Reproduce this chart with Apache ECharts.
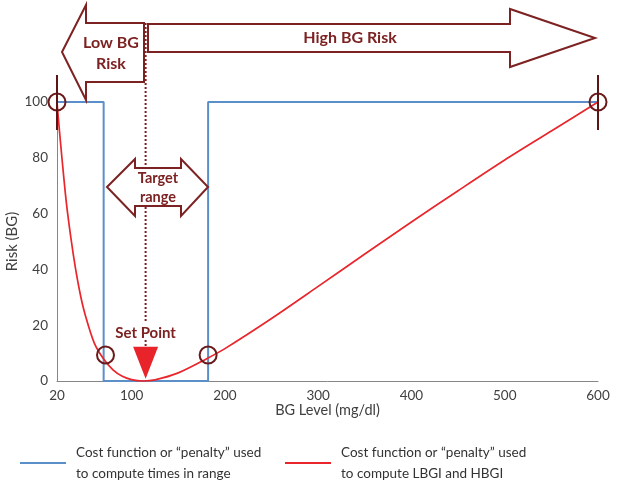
<!DOCTYPE html>
<html><head><meta charset="utf-8">
<script src="https://cdn.jsdelivr.net/npm/echarts@6/dist/echarts.min.js"></script>
<style>html,body{margin:0;padding:0;background:#fff}#c{width:627px;height:486px}</style>
</head><body><div id="c"></div>
<script>
// ---- data ----
const xTicks = [20, 100, 200, 300, 400, 500, 600];
const yTicks = [0, 20, 40, 60, 80, 100];
// Blue: cost function for time in range (step)
const blueX = [20, 70, 70, 182, 182, 600];
const blueY = [100, 100, 0, 0, 100, 100];
// Red: risk function used for LBGI / HBGI
const redX = [20, 22, 25, 30, 35, 40, 45, 50, 60, 70, 80, 90, 100, 112, 125, 150, 180, 200, 250, 300, 350, 400, 450, 500, 550, 600];
const redY = [100, 92, 81, 64, 51, 40, 31, 24, 13.6, 7.9, 4.0, 1.7, 0.5, 0, 0.4, 2.9, 7.9, 11.6, 22.4, 33.9, 45.5, 57.0, 68.2, 79.2, 89.6, 100];
// Highlighted points (circles)
const circleX = [20, 72, 182, 600];
const circleY = [100, 9.3, 9.3, 100];
// Set point
const setPointX = [115];
const setPointY = [6.5];
const blueName = 'Cost function or \u201Cpenalty\u201D used\nto compute times in range';
const redName = 'Cost function or \u201Cpenalty\u201D used\nto compute LBGI and HBGI';

const MAROON = '#7d2222';
const FONT = 'Lato';
const zip = (a, b) => a.map((v, i) => [v, b[i]]);

const legendText = {fontSize: 13.5, lineHeight: 21, color: '#333', fontFamily: FONT, padding: [0, 0, 0, 5]};
const chart = echarts.init(document.getElementById('c'), null, {renderer: 'canvas'});
chart.setOption({
  animation: false,
  textStyle: {fontFamily: FONT},
  grid: {left: 57, right: 29, top: 102, bottom: 105, containLabel: false, outerBoundsMode: 'none'},
  xAxis: {
    type: 'value', min: 20, max: 600,
    name: 'BG Level (mg/dl)', nameLocation: 'middle', nameGap: 22, nameMoveOverlap: false,
    nameTextStyle: {fontSize: 14.5, color: '#404040', fontFamily: FONT},
    axisLine: {show: true, lineStyle: {color: '#868686', width: 1}},
    axisTick: {show: false},
    splitLine: {show: false},
    axisLabel: {customValues: xTicks, fontSize: 13.5, color: '#404040', margin: 8, fontFamily: FONT}
  },
  yAxis: {
    type: 'value', min: 0, max: 100, interval: 20,
    name: 'Risk (BG)', nameLocation: 'middle', nameGap: 37, nameMoveOverlap: false,
    nameTextStyle: {fontSize: 15, color: '#404040', fontFamily: FONT},
    axisLine: {show: true, lineStyle: {color: '#868686', width: 1}},
    axisTick: {show: false},
    splitLine: {show: false},
    axisLabel: {customValues: yTicks, fontSize: 13.5, color: '#404040', margin: 9, fontFamily: FONT}
  },
  legend: [
    {left: 15, top: 437, itemWidth: 46, itemHeight: 2, icon: 'rect', textStyle: legendText, data: [blueName]},
    {left: 280, top: 437, itemWidth: 46, itemHeight: 2, icon: 'rect', textStyle: legendText, data: [redName]}
  ],
  series: [
    {name: blueName, type: 'line', data: zip(blueX, blueY), showSymbol: false,
     lineStyle: {color: '#5b8fca', width: 2}, itemStyle: {color: '#5b8fca'}, clip: false, z: 2},
    {name: redName, type: 'line', data: zip(redX, redY), smooth: 0.3, showSymbol: false,
     lineStyle: {color: '#e8262b', width: 1.7}, itemStyle: {color: '#e8262b'}, clip: false, z: 3},
    {type: 'scatter', data: zip(circleX, circleY), symbol: 'circle', symbolSize: 17,
     itemStyle: {color: 'rgba(0,0,0,0)', borderColor: '#6a1a1a', borderWidth: 2, opacity: 1}, clip: false, z: 5},
    {type: 'scatter', data: zip(setPointX, setPointY), symbol: 'path://M0,0 L2,0 L1,2 Z',
     symbolKeepAspect: false, symbolSize: [25, 32],
     itemStyle: {color: '#e8232a', opacity: 1}, clip: false, z: 6,
     label: {show: true, position: 'top', distance: 6, formatter: 'Set Point',
             color: MAROON, fontWeight: 'bold', fontSize: 15, fontFamily: FONT}}
  ]
});

// ---- annotations (arrows, dotted set-point line, crosshairs) ----
function px(x, y) { return chart.convertToPixel({gridIndex: 0}, [x, y]); }
const sp = px(setPointX[0], 0);
const c1 = px(circleX[0], circleY[0]);
const c4 = px(circleX[3], circleY[3]);
const arrowStyle = {fill: '#fff', stroke: MAROON, lineWidth: 2};
const txt = (x, y, s, size, lh) => ({type: 'text', x: x, y: y, z: 20,
  style: {text: s, fill: MAROON, font: 'bold ' + size + 'px ' + FONT, align: 'center', verticalAlign: 'middle', lineHeight: lh}});
chart.setOption({
  graphic: [
    // Low BG Risk arrow (pointing left)
    {type: 'polygon', z: 10, shape: {points: [[62, 52], [86, 5], [86, 23], [144, 23], [144, 82], [86, 82], [86, 100]]}, style: arrowStyle},
    txt(111, 53, 'Low BG\nRisk', 16, 21),
    // High BG Risk arrow (pointing right)
    {type: 'polygon', z: 10, shape: {points: [[148, 24], [510, 24], [510, 9], [595, 38], [510, 67], [510, 52], [148, 52]]}, style: arrowStyle},
    txt(350, 38, 'High BG Risk', 16, 20),
    // dotted set-point line
    {type: 'line', z: 12, shape: {x1: sp[0], y1: 23, x2: sp[0], y2: 322}, style: {stroke: MAROON, lineWidth: 2, lineDash: [2, 2]}},
    {type: 'line', z: 12, shape: {x1: sp[0], y1: 340, x2: sp[0], y2: 347}, style: {stroke: MAROON, lineWidth: 2, lineDash: [2, 2]}},
    // Target range double arrow
    {type: 'polygon', z: 13, shape: {points: [[107, 187], [135, 159], [135, 168], [181, 168], [181, 159], [208, 187], [181, 216], [181, 206], [135, 206], [135, 216]]}, style: arrowStyle},
    txt(158, 188, 'Target\nrange', 14.5, 19),
    // crosshair lines through end circles
    {type: 'line', z: 16, shape: {x1: c1[0], y1: c1[1] - 27, x2: c1[0], y2: c1[1] + 28}, style: {stroke: '#5a1515', lineWidth: 2}},
    {type: 'line', z: 16, shape: {x1: c4[0], y1: c4[1] - 27, x2: c4[0], y2: c4[1] + 28}, style: {stroke: '#5a1515', lineWidth: 2}}
  ]
});
</script>
</body></html>
